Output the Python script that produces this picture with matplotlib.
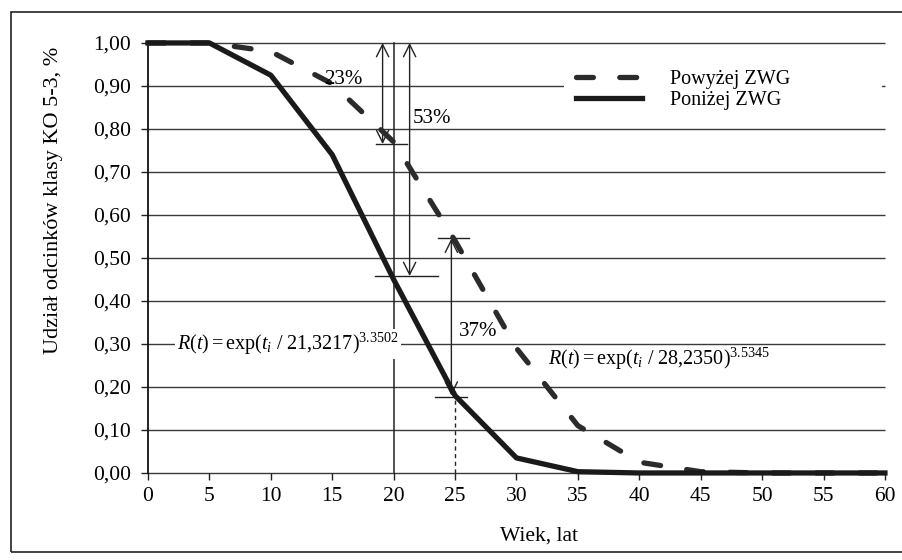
import numpy as np
import matplotlib
matplotlib.use('Agg')
import matplotlib.pyplot as plt
from matplotlib.patches import Rectangle

plt.rcParams['font.family'] = ['Liberation Serif', 'DejaVu Serif']
plt.rcParams['mathtext.fontset'] = 'custom'
plt.rcParams['mathtext.rm'] = 'Liberation Serif'
plt.rcParams['mathtext.it'] = 'Liberation Serif:italic'

# wiek, lat
wiek = [0, 5, 10, 15, 20, 25, 30, 35, 40, 45, 50, 55, 60]
# udzial odcinkow - powyzej / ponizej ZWG
powyzej = [1.00, 1.00, 0.98, 0.905, 0.77, 0.54, 0.29, 0.11, 0.025, 0.003, 0.0, 0.0, 0.0]
ponizej = [1.00, 1.00, 0.925, 0.74, 0.45, 0.18, 0.035, 0.003, 0.0, 0.0, 0.0, 0.0, 0.0]

y_ticks = [0.0, 0.1, 0.2, 0.3, 0.4, 0.5, 0.6, 0.7, 0.8, 0.9, 1.0]
x_ticks = list(range(0, 61, 5))

# strzalki: (x, y_od, y_do, etykieta, x_etykiety, y_etykiety)
strzalki = [
    (19.1, 1.00, 0.765, '23%', 15.9, 0.915),
    (21.3, 1.00, 0.458, '53%', 23.1, 0.825),
    (24.7, 0.545, 0.18, '37%', 26.9, 0.33),
]
# poziome kreski: (y, x_od, x_do)
kreski = [
    (0.765, 18.6, 21.1),
    (0.458, 18.5, 23.6),
    (0.547, 23.6, 26.1),
    (0.177, 23.4, 26.0),
]

fig = plt.figure(figsize=(9.03, 5.6), dpi=100)
ax = fig.add_axes([0.1639, 0.1554, 0.8161, 0.7679])

# ramka rysunku
fig.patches.append(Rectangle((0.012, 0.015), 1.2, 0.9636, transform=fig.transFigure,
                             fill=False, edgecolor='#222222', lw=1.2))

ax.hlines(y_ticks, 0, 60, colors='#3a3a3a', lw=1.0, zorder=1, clip_on=False)

ax.plot(wiek, powyzej, color='#2b2b2b', lw=3.8, dashes=(3.2, 5.0), dash_capstyle='round',
        clip_on=False, zorder=4, label='Powyżej ZWG')
ax.plot(wiek, ponizej, color='#1a1a1a', lw=3.8, clip_on=False, zorder=4,
        label='Poniżej ZWG')

# pionowe linie x=20 i x=25
ax.plot([20, 20], [0, 1.0], color='#222222', lw=1.1, zorder=2, clip_on=False)
ax.plot([25, 25], [0, 0.18], color='#222222', lw=1.0, ls=(0, (3, 2.5)), zorder=2)

for x, y0, y1, lab, xt, yt in strzalki:
    ax.annotate('', xy=(x, y1), xytext=(x, y0),
                arrowprops=dict(arrowstyle='<->', lw=1.0, color='#222222',
                                mutation_scale=22, shrinkA=0, shrinkB=0),
                zorder=3, annotation_clip=False)
    ax.text(xt, yt, lab, fontsize=15, ha='center', va='center', zorder=5)
for y, x0, x1 in kreski:
    ax.plot([x0, x1], [y, y], color='#222222', lw=1.0, zorder=3)

ax.text(2.4, 0.30, r'$R(t)=\mathrm{exp}(t_{i}\ /\ 21{,}3217)^{3.3502}$', fontsize=14.5,
        ha='left', va='center', zorder=5,
        bbox=dict(facecolor='white', edgecolor='none', pad=1.5))
ax.text(32.6, 0.265, r'$R(t)=\mathrm{exp}(t_{i}\ /\ 28{,}2350)^{3.5345}$', fontsize=14.5,
        ha='left', va='center', zorder=5)

ax.set_xlim(0, 60)
ax.set_ylim(0, 1.0)
ax.set_xticks(x_ticks)
ax.set_yticks(y_ticks)
ax.set_yticklabels([('%.2f' % v).replace('.', ',') for v in y_ticks])
ax.tick_params(axis='both', labelsize=15.5, direction='out', length=5, width=1, color='#222222')
ax.tick_params(axis='y', pad=7)
ax.tick_params(axis='x', pad=5)

for s in ['top', 'right', 'bottom']:
    ax.spines[s].set_visible(False)
ax.spines['left'].set_linewidth(1.3)
ax.spines['left'].set_color('#111111')

ax.set_xlabel('Wiek, lat', fontsize=15.5)
ax.xaxis.set_label_coords(0.53, -0.125)
ax.set_ylabel('Udział odcinków klasy KO 5-3, %', fontsize=16)
ax.yaxis.set_label_coords(-0.115, 0.633)

leg = ax.legend(loc='upper left', bbox_to_anchor=(0.564, 0.965, 0.432, 0.0), mode='expand',
                borderaxespad=0, fontsize=14.5, handlelength=3.3, handletextpad=1.4,
                borderpad=0.6, labelspacing=0.1, frameon=True, fancybox=False)
leg.get_frame().set_facecolor('white')
leg.get_frame().set_edgecolor('none')
leg.get_frame().set_alpha(1)
leg.set_zorder(6)

fig.savefig('out.png', dpi=100)
